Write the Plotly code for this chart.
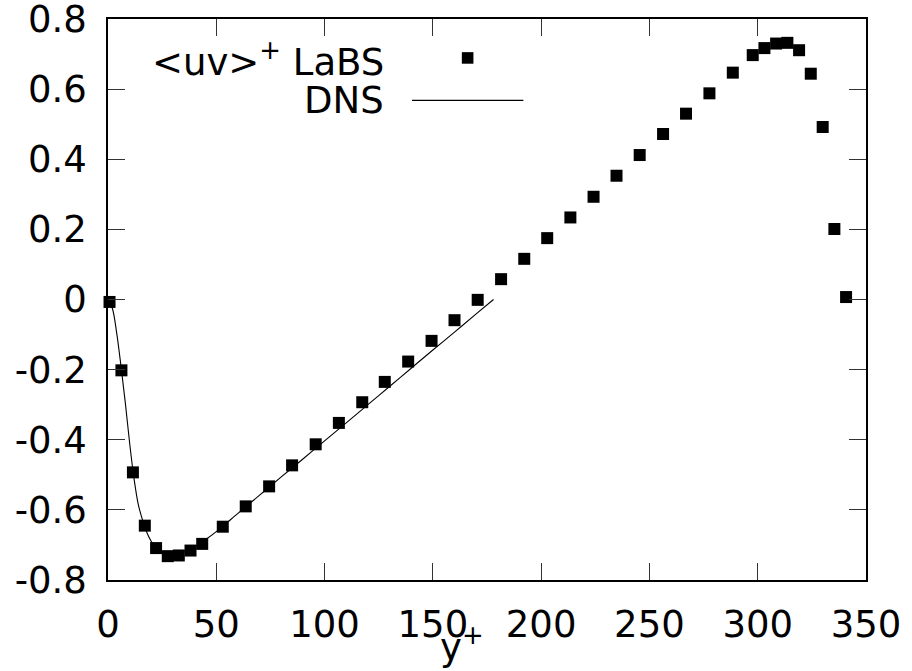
import plotly.graph_objects as go

# LaBS data (<uv>+ vs y+)
labs_y = [0.7, 6.2, 11.5, 17.0, 22.2, 27.6, 32.7, 38.1, 43.5, 53.0, 63.6, 74.4, 85.0,
          95.9, 106.6, 117.4, 127.8, 138.6, 149.4, 160.0, 170.7, 181.5, 192.2, 202.8,
          213.5, 224.2, 234.8, 245.5, 256.3, 266.9, 277.7, 288.5, 297.7, 303.1, 308.5,
          313.7, 319.1, 324.5, 330.0, 335.4, 340.8]
labs_uv = [-0.007, -0.202, -0.493, -0.645, -0.709, -0.732, -0.730, -0.716, -0.697,
           -0.648, -0.590, -0.533, -0.473, -0.413, -0.352, -0.293, -0.235, -0.177,
           -0.118, -0.059, -0.001, 0.058, 0.116, 0.175, 0.234, 0.293, 0.353, 0.412,
           0.472, 0.530, 0.588, 0.647, 0.697, 0.717, 0.730, 0.732, 0.711, 0.644,
           0.492, 0.201, 0.007]

# DNS data
dns_y = [0, 2, 4, 6, 8, 10, 12, 14, 16, 18, 20, 22, 25, 28, 31, 35, 40, 45, 50,
         60, 70, 80, 90, 100, 110, 120, 130, 140, 150, 160, 170, 178]
dns_uv = [0.0, -0.025, -0.095, -0.19, -0.295, -0.41, -0.51, -0.585, -0.63, -0.665,
          -0.69, -0.707, -0.72, -0.727, -0.726, -0.72, -0.705, -0.685, -0.662,
          -0.61, -0.558, -0.506, -0.455, -0.403, -0.352, -0.30, -0.248, -0.196,
          -0.144, -0.093, -0.041, 0.0]

x_ticks = [0, 50, 100, 150, 200, 250, 300, 350]
y_ticks = [-0.8, -0.6, -0.4, -0.2, 0, 0.2, 0.4, 0.6, 0.8]
y_ticktext = ["-0.8", "-0.6", "-0.4", "-0.2", "0", "0.2", "0.4", "0.6", "0.8"]

FONT = "DejaVu Sans"
FS = 37

fig = go.Figure()
fig.add_trace(go.Scatter(x=dns_y, y=dns_uv, mode="lines",
                         line=dict(color="black", width=1.1, shape="spline"),
                         showlegend=False, cliponaxis=False))
fig.add_trace(go.Scatter(x=labs_y, y=labs_uv, mode="markers",
                         marker=dict(symbol="square", size=12, color="black",
                                     line=dict(width=0)),
                         showlegend=False, cliponaxis=False))

axis_common = dict(showline=True, linecolor="black", linewidth=1.5, mirror="ticks",
                   ticks="inside", ticklen=17, tickwidth=1, tickcolor="#333",
                   showgrid=False, zeroline=False, ticklabeloverflow="allow",
                   tickfont=dict(family=FONT, size=FS, color="black"))

fig.update_xaxes(range=[0, 350], tickvals=x_ticks, ticktext=[str(v) for v in x_ticks],
                 ticklabelstandoff=11, **axis_common)
fig.update_yaxes(range=[-0.8, 0.8], tickvals=y_ticks, ticktext=y_ticktext,
                 ticklabelstandoff=12, **axis_common)

# x-axis title
fig.add_annotation(text="y<sup>+</sup>", xref="paper", yref="paper",
                   x=(462 - 107.5) / 758.5, y=-0.068, xanchor="center", yanchor="top",
                   showarrow=False, font=dict(family=FONT, size=FS, color="black"))

# legend (gnuplot-style: text left, sample right)
fig.add_annotation(text="&lt;uv&gt;<sup>+</sup> LaBS", xref="paper", yref="paper",
                   x=0.3672, y=0.927, xanchor="right", yanchor="middle",
                   showarrow=False, font=dict(family=FONT, size=FS, color="black"))
fig.add_annotation(text="DNS", xref="paper", yref="paper",
                   x=0.3672, y=0.855, xanchor="right", yanchor="middle",
                   showarrow=False, font=dict(family=FONT, size=FS, color="black"))
fig.add_shape(type="rect", xref="paper", yref="paper",
              x0=0.4668, x1=0.4821, y0=0.9203, y1=0.9409,
              fillcolor="black", line=dict(width=0))
fig.add_shape(type="line", xref="paper", yref="paper",
              x0=0.401, x1=0.548, y0=0.855, y1=0.855,
              line=dict(color="black", width=1.1))

fig.update_layout(width=912, height=671, plot_bgcolor="white", paper_bgcolor="white",
                  margin=dict(l=107.5, r=46, t=18.5, b=90.5, autoexpand=False),
                  font=dict(family=FONT, size=FS, color="black"))

fig.write_html("out.html", config={"displayModeBar": False},
               post_script="document.body.style.margin='0';document.body.style.padding='0';")
